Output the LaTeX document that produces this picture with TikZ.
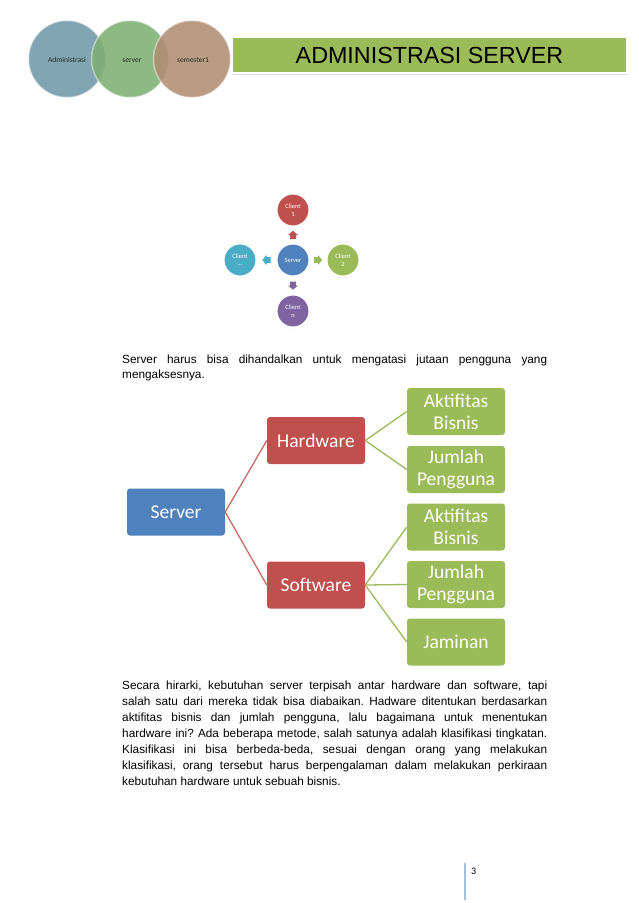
\documentclass[tikz,border=0pt]{standalone}
\usepackage{fontspec}
\setmainfont{Liberation Sans}
\newfontfamily\calfont{Carlito}
\usetikzlibrary{shadows,calc}
\definecolor{admc}{HTML}{7199A8}
\definecolor{srvc}{HTML}{7DAF72}
\definecolor{semc}{HTML}{B08D72}
\definecolor{titc}{HTML}{9BBB59}
\definecolor{ored}{HTML}{C0504D}
\definecolor{ogreen}{HTML}{9BBB59}
\definecolor{oblue}{HTML}{4F81BD}
\definecolor{opurple}{HTML}{8064A2}
\definecolor{oteal}{HTML}{4BACC6}
\definecolor{barc}{HTML}{A7BFDE}
\definecolor{htext}{HTML}{1E2A22}
\tikzset{
  hcirc/.style={circle,minimum size=77pt,inner sep=0pt,fill opacity=0.88,draw=white,draw opacity=0.45,line width=1.5pt},
  htxt/.style={anchor=base,inner sep=0pt,text=htext,font=\calfont\fontsize{7.5}{9}\selectfont},
  scirc/.style={circle,minimum size=33pt,inner sep=0pt,draw=white,line width=2pt,text=white,align=center,font=\calfont\fontsize{6.5}{7.5}\selectfont,drop shadow={opacity=0.25,shadow xshift=0.6pt,shadow yshift=-0.8pt}},
  hbox/.style={rectangle,rounded corners=3pt,minimum width=98pt,minimum height=47pt,inner sep=0pt,text=white,align=center,font=\calfont\fontsize{19.5}{22}\selectfont},
  rline/.style={draw=ored!85,line width=1.3pt},
  gline/.style={draw=ogreen,line width=1.3pt},
  para/.style={anchor=base west,inner sep=0pt,font=\fontsize{11.8}{16}\selectfont}
}
\newcommand{\housearrow}[3]{% colour, centre, angle
  \fill[#1,shift={(#2)},rotate=#3] (-4,-3) -- (0,-3) -- (0,-5) -- (4.2,0) -- (0,5) -- (0,3) -- (-4,3) -- cycle;}
\begin{document}
\frenchspacing
\begin{tikzpicture}[x=1pt,y=-1pt]
\useasboundingbox (0,0) rectangle (638,903);
% header circles
\node[hcirc,fill=admc] (adm) at (67,59) {};
\node[hcirc,fill=srvc] (hsrv) at (130,59) {};
\node[hcirc,fill=semc] (sem) at (192,59) {};
\node[htxt] (admt) at (67,62) {Administrasi};
\node[htxt] (hsrvt) at (132,62) {server};
\node[htxt] (semt) at (193,62) {semester1};
% title
\node[rectangle,fill=titc,draw=white,line width=2pt,minimum width=395pt,minimum height=36pt,inner sep=0pt,
  drop shadow={opacity=0.3,shadow xshift=1pt,shadow yshift=-1.5pt},font=\fontsize{23.3}{26}\selectfont] (title) at (429.5,55) {ADMINISTRASI SERVER};
% small diagram
\node[scirc,fill=oblue] (ssrv) at (293,260) {Server};
\node[scirc,fill=ored] (c1) at (293,210) {Client\\1};
\node[scirc,fill=ogreen] (c2) at (343,260) {Client\\2};
\node[scirc,fill=opurple] (cn) at (293,311) {Client\\n};
\node[scirc,fill=oteal] (cd) at (240,260) {Client\\...};
\coordinate (a1) at ($(ssrv)!0.5!(c1)$);
\coordinate (a2) at ($(ssrv)!0.5!(c2)$);
\coordinate (an) at ($(ssrv)!0.5!(cn)$);
\coordinate (ad) at ($(ssrv)!0.5!(cd)$);
\housearrow{ored}{a1}{90}
\housearrow{ogreen}{a2}{0}
\housearrow{opurple}{an}{-90}
\housearrow{oteal}{ad}{180}
% paragraph 1
\node[para] (p1) at (122,363) {\parbox[t]{425pt}{\fontsize{11.8}{15.5}\selectfont
\makebox[425pt][s]{Server harus bisa dihandalkan untuk mengatasi jutaan pengguna yang}\\
mengaksesnya.}};
% hierarchy
\node[hbox,fill=oblue] (root) at (176,512) {Server};
\node[hbox,fill=ored] (hw) at (316,440.5) {Hardware};
\node[hbox,fill=ored] (sw) at (316,585) {Software};
\node[hbox,fill=ogreen] (g1) at (456,411.5) {Aktifitas\\Bisnis};
\node[hbox,fill=ogreen] (g2) at (456,469.5) {Jumlah\\Pengguna};
\node[hbox,fill=ogreen] (g3) at (456,527) {Aktifitas\\Bisnis};
\node[hbox,fill=ogreen] (g4) at (456,584.5) {Jumlah\\Pengguna};
\node[hbox,fill=ogreen] (g5) at (456,642) {Jaminan};
\draw[rline] (root.east) -- (hw.west);
\draw[rline] (root.east) -- (sw.west);
\draw[gline] (hw.east) -- (g1.west);
\draw[gline] (hw.east) -- (g2.west);
\draw[gline] (sw.east) -- (g3.west);
\draw[gline] (sw.east) -- (g4.west);
\draw[gline] (sw.east) -- (g5.west);
% paragraph 2
\node[para] (p2) at (122,689) {\parbox[t]{425pt}{\fontsize{11.8}{16}\selectfont
\makebox[425pt][s]{Secara hirarki, kebutuhan server terpisah antar hardware dan software, tapi}\\
\makebox[425pt][s]{salah satu dari mereka tidak bisa diabaikan. Hadware ditentukan berdasarkan}\\
\makebox[425pt][s]{aktifitas bisnis dan jumlah pengguna, lalu bagaimana untuk menentukan}\\
\makebox[425pt][s]{hardware ini? Ada beberapa metode, salah satunya adalah klasifikasi tingkatan.}\\
\makebox[425pt][s]{Klasifikasi ini bisa berbeda-beda, sesuai dengan orang yang melakukan}\\
\makebox[425pt][s]{klasifikasi, orang tersebut harus berpengalaman dalam melakukan perkiraan}\\
kebutuhan hardware untuk sebuah bisnis.}};
% page number
\coordinate (bt) at (465,863);
\coordinate (bb) at (465,900);
\draw[barc,line width=2.2pt] (bt) -- (bb);
\node[anchor=base west,inner sep=0pt,font=\calfont\fontsize{10}{12}\selectfont] (pg) at (471,874) {3};
\end{tikzpicture}
\end{document}
